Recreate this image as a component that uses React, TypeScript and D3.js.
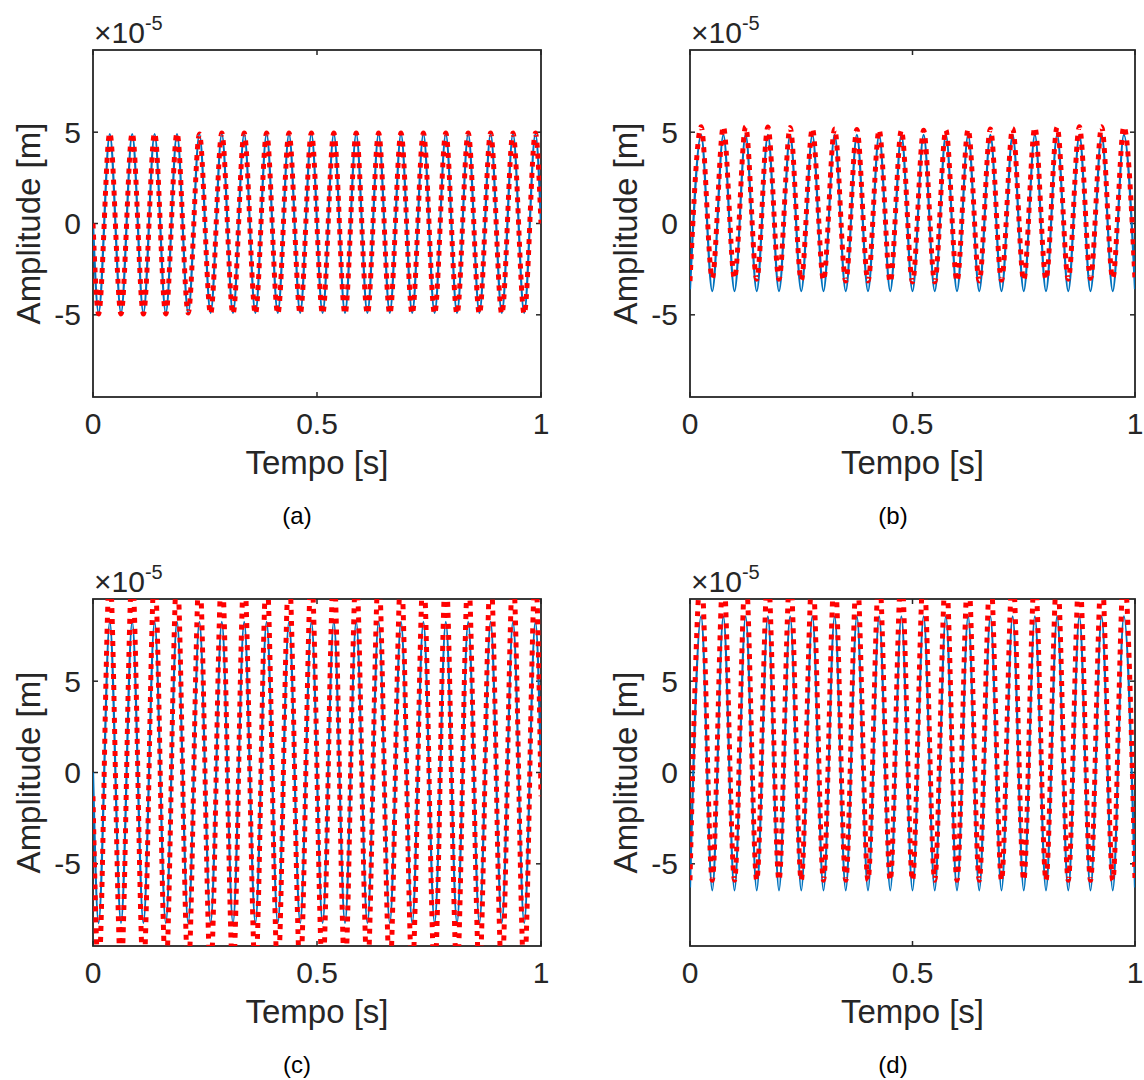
import React from "react";
import * as d3 from "d3";

const FONT = "'Liberation Sans', Arial, Helvetica, sans-serif";
const AXIS_COLOR = "#262626";
const BLUE = "#0072BD";
const RED = "#FF0000";

const xTicks = [0, 0.5, 1];
const xTickLabels = ["0", "0.5", "1"];
const yTicks = [-5, 0, 5];
const yTickLabels = ["-5", "0", "5"];
const yDomain = [-9.5, 9.5];
const xDomain = [0, 1];
const xLabel = "Tempo [s]";
const yLabel = "Amplitude [m]";
const captions = ["(a)", "(b)", "(c)", "(d)"];

// times of the extrema (s)
const peakTimesAC = [0.0375, 0.0875, 0.1375, 0.1875, 0.2375, 0.2875, 0.3375, 0.3875, 0.4375, 0.4875, 0.5375, 0.5875, 0.6375, 0.6875, 0.7375, 0.7875, 0.8375, 0.8875, 0.9375, 0.9875];
const troughTimesAC = [0.0125, 0.0625, 0.1125, 0.1625, 0.2125, 0.2625, 0.3125, 0.3625, 0.4125, 0.4625, 0.5125, 0.5625, 0.6125, 0.6625, 0.7125, 0.7625, 0.8125, 0.8625, 0.9125, 0.9625];
const peakTimesBD = [0.025, 0.075, 0.125, 0.175, 0.225, 0.275, 0.325, 0.375, 0.425, 0.475, 0.525, 0.575, 0.625, 0.675, 0.725, 0.775, 0.825, 0.875, 0.925, 0.975];
const troughTimesBD = [0, 0.05, 0.1, 0.15, 0.2, 0.25, 0.3, 0.35, 0.4, 0.45, 0.5, 0.55, 0.6, 0.65, 0.7, 0.75, 0.8, 0.85, 0.9, 0.95, 1];

// Panel (a)  (values x 1e-5 m)
const blueA_start = 0;
const blueA_end = 0;
const blueA_peaks = [4.9, 4.9, 4.9, 4.9, 4.9, 4.9, 4.9, 4.9, 4.9, 4.9, 4.9, 4.9, 4.9, 4.9, 4.9, 4.9, 4.9, 4.9, 4.9, 4.9];
const blueA_troughs = [-4.9, -4.9, -4.9, -4.9, -4.9, -4.9, -4.9, -4.9, -4.9, -4.9, -4.9, -4.9, -4.9, -4.9, -4.9, -4.9, -4.9, -4.9, -4.9, -4.9];
const redA_start = 0;
const redA_end = 0;
const redA_peaks = [4.95, 4.95, 4.95, 4.95, 4.9, 4.95, 4.95, 4.95, 4.95, 4.95, 4.95, 4.95, 4.95, 4.95, 4.95, 4.95, 4.95, 4.95, 4.95, 4.95];
const redA_troughs = [-4.95, -4.95, -4.95, -4.95, -4.9, -4.95, -4.95, -4.95, -4.95, -4.95, -4.95, -4.95, -4.95, -4.95, -4.95, -4.95, -4.95, -4.95, -4.95, -4.95];

// Panel (b)
const blueB_peaks = [4.85, 4.85, 4.85, 4.85, 4.85, 4.85, 4.85, 4.85, 4.85, 4.85, 4.85, 4.85, 4.85, 4.85, 4.85, 4.85, 4.85, 4.85, 4.85, 4.85];
const blueB_troughs = [-3.6, -3.7, -3.7, -3.7, -3.7, -3.7, -3.7, -3.7, -3.7, -3.7, -3.7, -3.7, -3.7, -3.7, -3.7, -3.7, -3.7, -3.7, -3.7, -3.7, -3.6];
const redB_peaks = [5.3, 5.3, 5.3, 5.28, 5.25, 5.2, 5.18, 5.15, 5.12, 5.1, 5.1, 5.12, 5.15, 5.18, 5.2, 5.25, 5.28, 5.3, 5.3, 5.3];
const redB_troughs = [-3.15, -3.0, -3.0, -3.05, -3.05, -3.1, -3.1, -3.15, -3.15, -3.2, -3.2, -3.2, -3.15, -3.15, -3.1, -3.1, -3.05, -3.05, -3.0, -3.0, -3.1];

// Panel (c)
const blueC_start = 0;
const blueC_end = 0;
const blueC_peaks = [8.25, 8.25, 8.25, 8.25, 8.25, 8.25, 8.25, 8.25, 8.25, 8.25, 8.25, 8.25, 8.25, 8.25, 8.25, 8.25, 8.25, 8.25, 8.25, 8.25];
const blueC_troughs = [-8.25, -8.25, -8.25, -8.25, -8.25, -8.25, -8.25, -8.25, -8.25, -8.25, -8.25, -8.25, -8.25, -8.25, -8.25, -8.25, -8.25, -8.25, -8.25, -8.25];
const redC_start = -1.3;
const redC_end = -1.3;
const redC_peaks = [11, 11, 11, 11, 11, 11, 11, 11, 11, 11, 11, 11, 11, 11, 11, 11, 11, 11, 11, 11];
const redC_troughs = [-11, -11, -11, -11, -11, -11, -11, -11, -11, -11, -11, -11, -11, -11, -11, -11, -11, -11, -11, -11];

// Panel (d)
const blueD_peaks = [8.55, 8.55, 8.55, 8.55, 8.55, 8.55, 8.55, 8.55, 8.55, 8.55, 8.55, 8.55, 8.55, 8.55, 8.55, 8.55, 8.55, 8.55, 8.55, 8.55];
const blueD_troughs = [-6.3, -6.45, -6.45, -6.45, -6.45, -6.45, -6.45, -6.45, -6.45, -6.45, -6.45, -6.45, -6.45, -6.45, -6.45, -6.45, -6.45, -6.45, -6.45, -6.45, -6.3];
const redD_peaks = [11, 11, 11, 11, 11, 11, 11, 11, 11, 11, 11, 11, 11, 11, 11, 11, 11, 11, 11, 11];
const redD_troughs = [-5.9, -5.9, -5.9, -5.9, -5.9, -5.9, -5.9, -5.9, -5.9, -5.9, -5.9, -5.9, -5.9, -5.9, -5.9, -5.9, -5.9, -5.9, -5.9, -5.9, -5.9];

type Pt = [number, number];

function buildSeries(
  peakTimes: number[],
  peaks: number[],
  troughTimes: number[],
  troughs: number[],
  start: number | null,
  end: number | null
): Pt[] {
  const pts: Pt[] = [];
  if (start !== null) pts.push([0, start]);
  peaks.forEach((v, i) => pts.push([peakTimes[i], v]));
  troughs.forEach((v, i) => pts.push([troughTimes[i], v]));
  if (end !== null) pts.push([1, end]);
  pts.sort((a, b) => a[0] - b[0]);
  return pts;
}

const seriesA = {
  blue: buildSeries(peakTimesAC, blueA_peaks, troughTimesAC, blueA_troughs, blueA_start, blueA_end),
  red: buildSeries(peakTimesAC, redA_peaks, troughTimesAC, redA_troughs, redA_start, redA_end),
};
const seriesB = {
  blue: buildSeries(peakTimesBD, blueB_peaks, troughTimesBD, blueB_troughs, null, null),
  red: buildSeries(peakTimesBD, redB_peaks, troughTimesBD, redB_troughs, null, null),
};
const seriesC = {
  blue: buildSeries(peakTimesAC, blueC_peaks, troughTimesAC, blueC_troughs, blueC_start, blueC_end),
  red: buildSeries(peakTimesAC, redC_peaks, troughTimesAC, redC_troughs, redC_start, redC_end),
};
const seriesD = {
  blue: buildSeries(peakTimesBD, blueD_peaks, troughTimesBD, blueD_troughs, null, null),
  red: buildSeries(peakTimesBD, redD_peaks, troughTimesBD, redD_troughs, null, null),
};

const layouts = [
  { L: 93, T: 50, R: 541, B: 397, capX: 297, series: seriesA },
  { L: 690, T: 50, R: 1135, B: 397, capX: 893, series: seriesB },
  { L: 93, T: 599, R: 541, B: 946, capX: 297, series: seriesC },
  { L: 690, T: 599, R: 1135, B: 946, capX: 893, series: seriesD },
];

const TICK_FS = 30;
const LABEL_FS = 33;
const CAP_FS = 24;
const TICK_LEN = 5;

function Panel({ idx }: { idx: number }) {
  const { L, T, R, B, capX, series } = layouts[idx];
  const x = d3.scaleLinear().domain(xDomain).range([L, R]);
  const y = d3.scaleLinear().domain(yDomain).range([B, T]);
  const line = d3
    .line<Pt>()
    .x((d) => x(d[0]))
    .y((d) => y(d[1]))
    .curve(d3.curveMonotoneX);
  const clipId = `clip-${idx}`;
  return (
    <g>
      <defs>
        <clipPath id={clipId}>
          <rect x={L} y={T} width={R - L} height={B - T} />
        </clipPath>
      </defs>
      <rect x={L} y={T} width={R - L} height={B - T} fill="#fff" stroke={AXIS_COLOR} strokeWidth={1.8} />
      {xTicks.map((t, i) => (
        <g key={"xt" + i}>
          <line x1={x(t)} x2={x(t)} y1={B} y2={B - TICK_LEN} stroke={AXIS_COLOR} strokeWidth={1.5} />
          <line x1={x(t)} x2={x(t)} y1={T} y2={T + TICK_LEN} stroke={AXIS_COLOR} strokeWidth={1.5} />
          <text x={x(t)} y={B + 37} textAnchor="middle" fontSize={TICK_FS} fill={AXIS_COLOR} fontFamily={FONT}>
            {xTickLabels[i]}
          </text>
        </g>
      ))}
      {yTicks.map((t, i) => (
        <g key={"yt" + i}>
          <line x1={L} x2={L + TICK_LEN} y1={y(t)} y2={y(t)} stroke={AXIS_COLOR} strokeWidth={1.5} />
          <line x1={R} x2={R - TICK_LEN} y1={y(t)} y2={y(t)} stroke={AXIS_COLOR} strokeWidth={1.5} />
          <text x={L - 12} y={y(t) + 10.5} textAnchor="end" fontSize={TICK_FS} fill={AXIS_COLOR} fontFamily={FONT}>
            {yTickLabels[i]}
          </text>
        </g>
      ))}
      <g clipPath={`url(#${clipId})`}>
        <path d={line(series.blue) || ""} fill="none" stroke={BLUE} strokeWidth={2.2} />
        <path
          d={line(series.red) || ""}
          fill="none"
          stroke={RED}
          strokeWidth={5}
          strokeDasharray="5 6"
          strokeLinecap="butt"
        />
      </g>
      <text x={L + 1} y={T - 7} fontSize={TICK_FS} fill={AXIS_COLOR} fontFamily={FONT}>
        ×10
        <tspan fontSize={20} dy={-13}>
          -5
        </tspan>
      </text>
      <text x={(L + R) / 2} y={B + 77} textAnchor="middle" fontSize={LABEL_FS} fill={AXIS_COLOR} fontFamily={FONT}>
        {xLabel}
      </text>
      <text
        transform={`translate(${L - 53},${(T + B) / 2}) rotate(-90)`}
        textAnchor="middle"
        fontSize={LABEL_FS}
        fill={AXIS_COLOR}
        fontFamily={FONT}
      >
        {yLabel}
      </text>
      <text x={capX} y={B + 127} textAnchor="middle" fontSize={CAP_FS} fill="#000" fontFamily={FONT}>
        {captions[idx]}
      </text>
    </g>
  );
}

export default function App() {
  return (
    <svg
      width={1144}
      height={1080}
      viewBox="0 0 1144 1080"
      style={{ position: "absolute", left: 0, top: 0, background: "#fff" }}
    >
      <rect x={0} y={0} width={1144} height={1080} fill="#fff" />
      {layouts.map((_, i) => (
        <Panel key={i} idx={i} />
      ))}
    </svg>
  );
}
